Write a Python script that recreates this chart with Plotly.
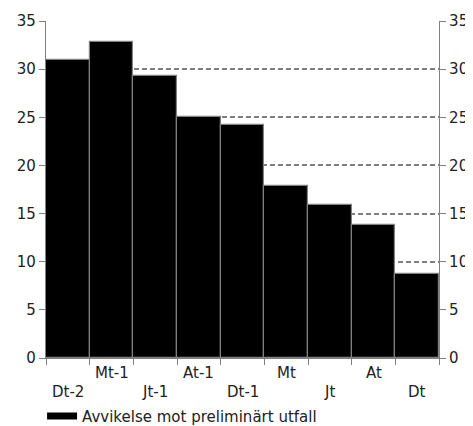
import plotly.graph_objects as go

categories = ["Dt-2", "Mt-1", "Jt-1", "At-1", "Dt-1", "Mt", "Jt", "At", "Dt"]
values = [30.9, 32.8, 29.3, 25.0, 24.2, 17.9, 15.9, 13.8, 8.7]
series_name = "Avvikelse mot preliminärt utfall"
y_ticks = [0, 5, 10, 15, 20, 25, 30, 35]

FONT = "DejaVu Sans, Verdana, sans-serif"
GREY = "#808080"
TXT = "#222222"

n = len(categories)
xpos = list(range(n))

fig = go.Figure()
fig.add_trace(go.Bar(
    x=xpos, y=values, width=1, name=series_name, legendgroup="s",
    marker=dict(color="black", line=dict(color=GREY, width=1.2)),
    showlegend=False,
))
# legend entry drawn as a wide flat swatch
fig.add_trace(go.Scatter(x=[None], y=[None], mode="lines", name=series_name, legendgroup="s",
                         line=dict(color="black", width=7), showlegend=True, hoverinfo="skip"))
# invisible trace on secondary y-axis for right ticks
fig.add_trace(go.Scatter(x=[xpos[0]], y=[values[0]], yaxis="y2", mode="markers",
                         marker=dict(opacity=0), showlegend=False, hoverinfo="skip"))

for i, c in enumerate(categories):
    fig.add_annotation(x=i, y=0, xref="x", yref="paper", text=c, showarrow=False,
                       yanchor="middle", yshift=(-15 if i % 2 == 1 else -34),
                       font=dict(family=FONT, size=15, color=TXT))

fig.update_layout(
    width=465, height=418,
    margin=dict(l=38, r=34, t=13, b=68, autoexpand=False),
    plot_bgcolor="white", paper_bgcolor="white",
    font=dict(family=FONT, size=15, color=TXT),
    bargap=0,
    xaxis=dict(range=[-0.5, n - 0.5], tickvals=[i - 0.5 for i in range(n + 1)],
               ticktext=[""] * (n + 1), ticks="outside", ticklen=6, tickcolor=GREY,
               showline=True, linecolor=GREY, linewidth=1, showgrid=False, zeroline=False,
               automargin=False),
    yaxis=dict(range=[0, 35], tickvals=y_ticks, ticks="outside", ticklen=6, tickcolor=GREY,
               showline=True, linecolor=GREY, linewidth=1.2, showgrid=True, gridcolor=GREY,
               griddash="5px,3px", gridwidth=1.5, zeroline=False, automargin=False),
    yaxis2=dict(range=[0, 35], tickvals=y_ticks, overlaying="y", side="right", ticks="outside",
                ticklen=6, tickcolor=GREY, showline=True, linecolor=GREY, linewidth=1.2,
                showgrid=False, zeroline=False, automargin=False),
    legend=dict(orientation="h", x=-0.01, xanchor="left", y=-0.124, yanchor="top", yref="paper",
                font=dict(family=FONT, size=15, color=TXT), bgcolor="rgba(0,0,0,0)"),
)

fig.write_html("out.html")
